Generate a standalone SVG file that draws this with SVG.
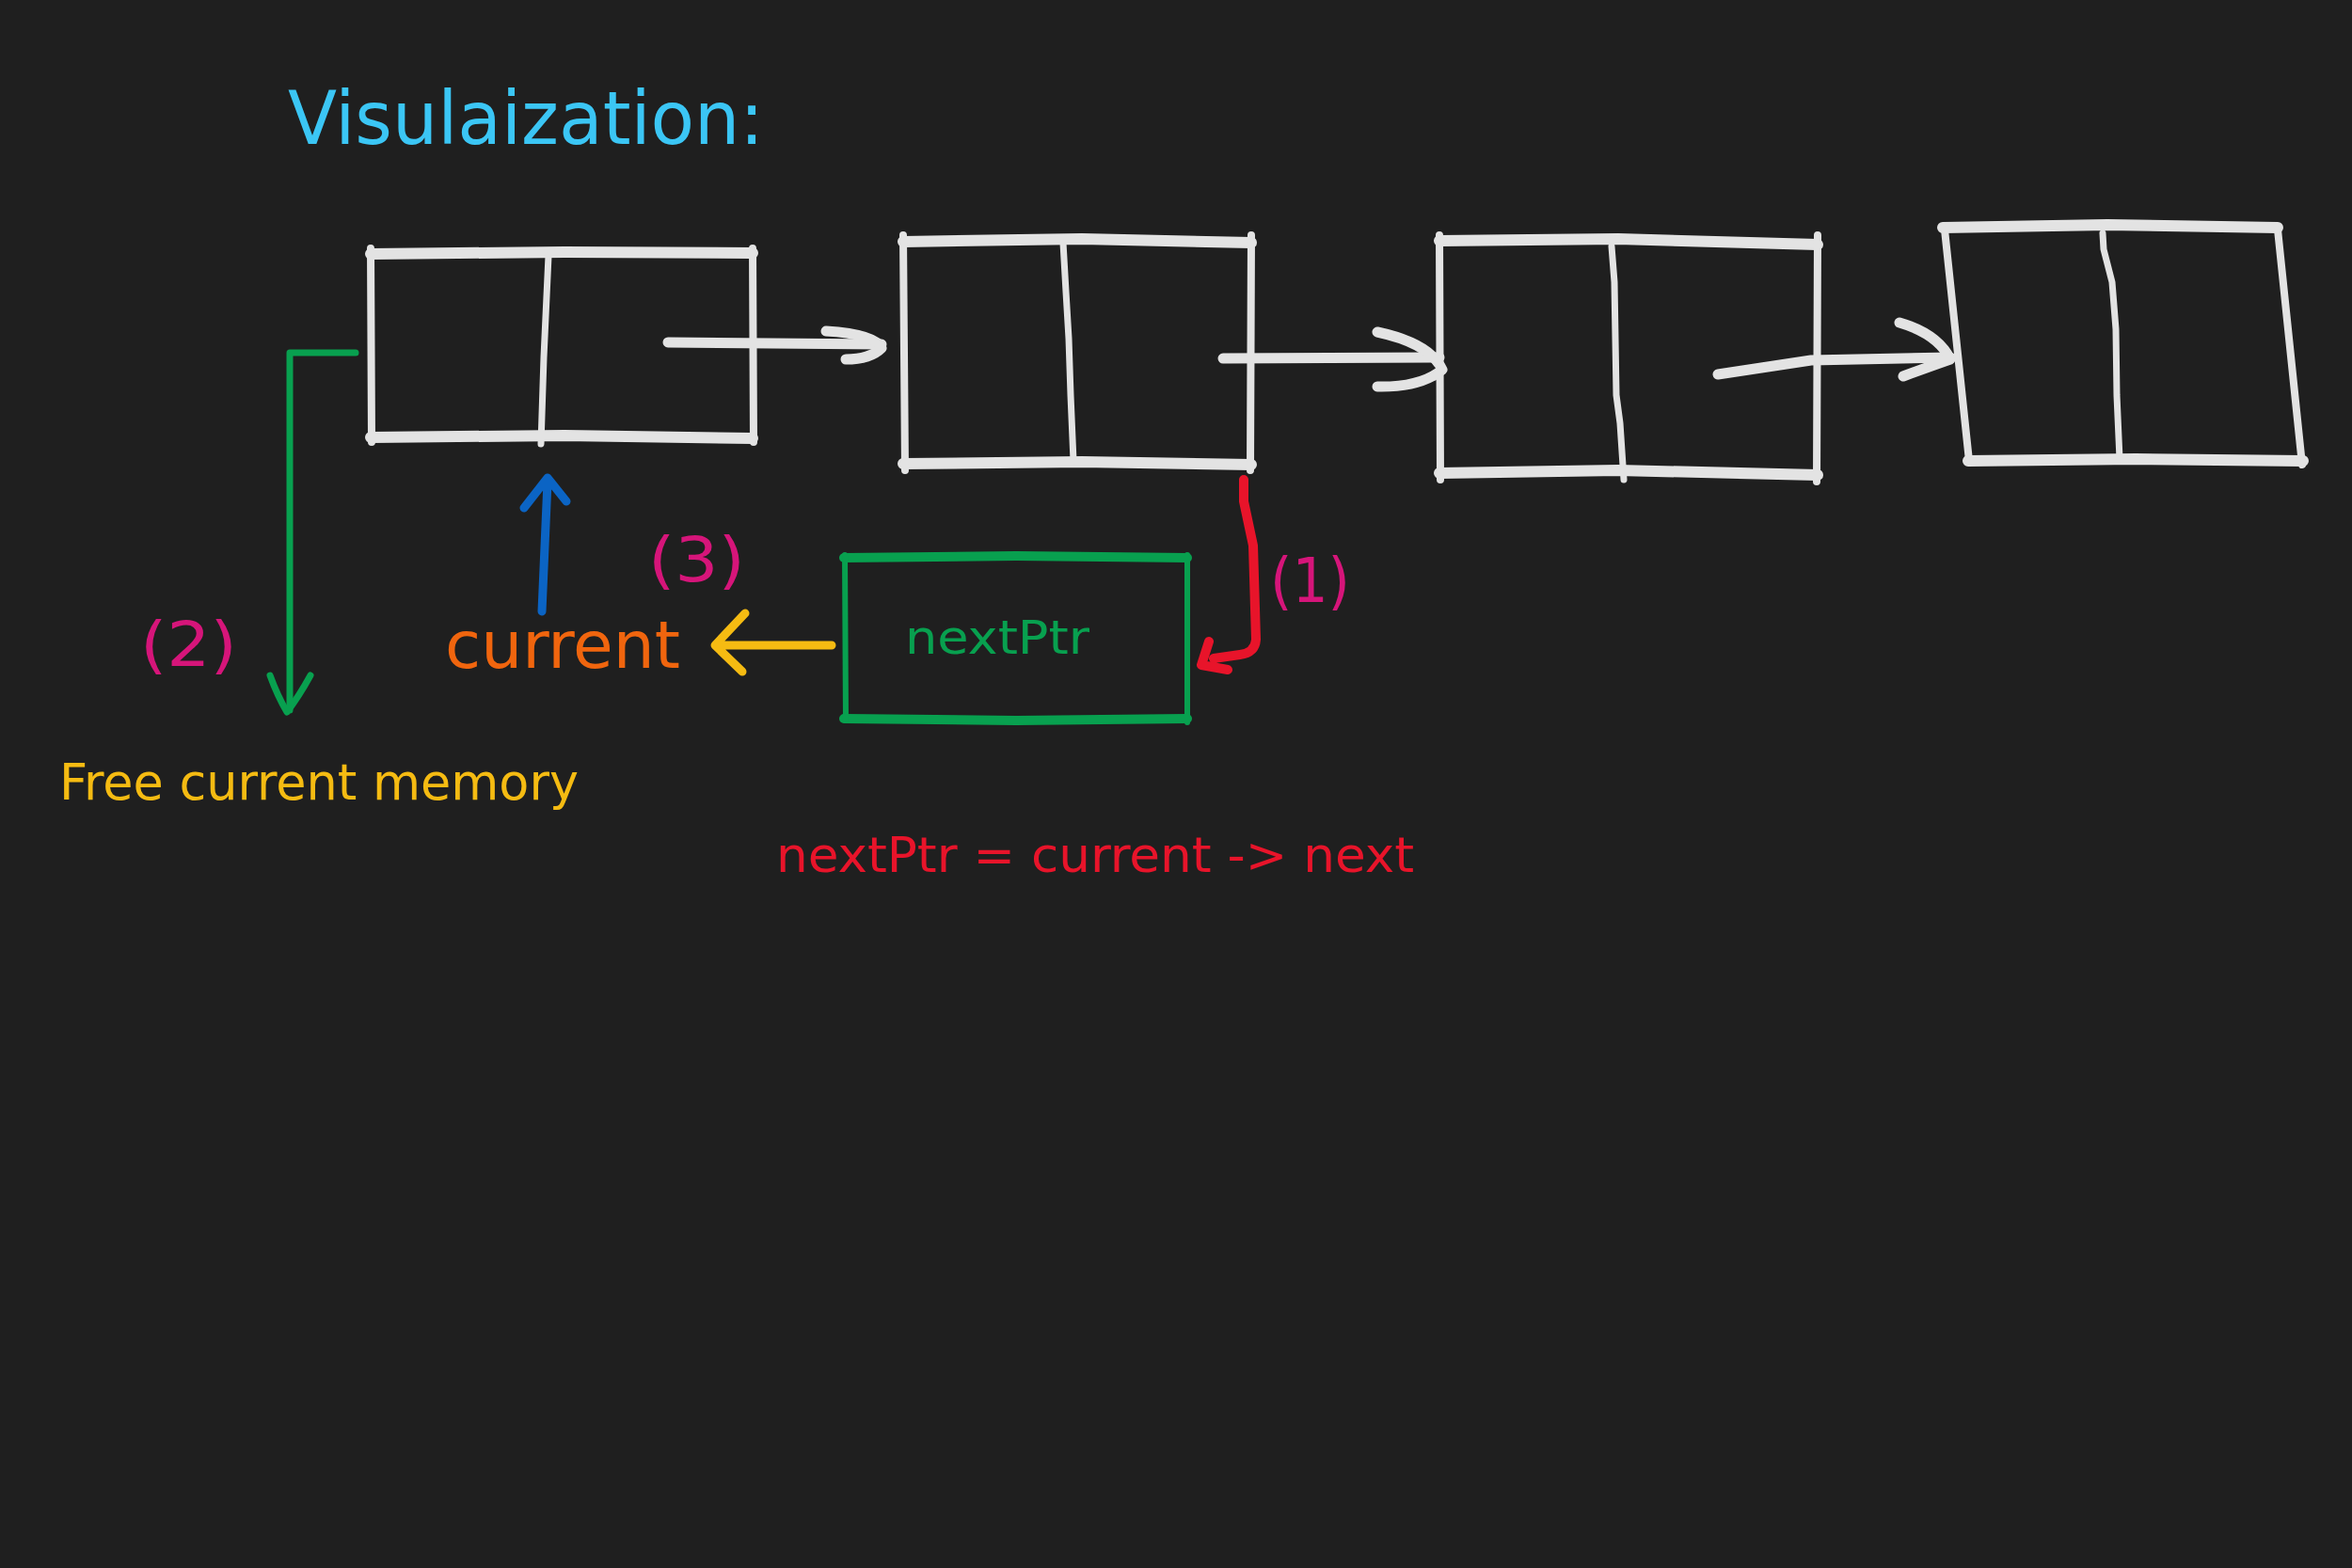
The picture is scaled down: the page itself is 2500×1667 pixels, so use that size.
<svg xmlns="http://www.w3.org/2000/svg" width="2500" height="1667" viewBox="0 0 2500 1667">
<defs>
<style>
.w{fill:none;stroke:#e3e3e3;stroke-linecap:round;stroke-linejoin:round}
.edge{stroke-width:12}
.side{stroke-width:8}
.div{stroke-width:7}
.ar{fill:none;stroke:#e3e3e3;stroke-width:11;stroke-linecap:round;stroke-linejoin:round}
.t{font-family:"Liberation Sans Narrow","DejaVu Sans Condensed","Liberation Sans",sans-serif}
.mag{fill:#d6157a}
</style>
</defs>
<rect x="0" y="0" width="2500" height="1667" fill="#1f1f1f"/>

<g id="title">
<text class="t" x="306" y="153" font-size="78" fill="#3bc6f5" textLength="506" lengthAdjust="spacingAndGlyphs">Visulaization:</text>
</g>

<g id="node1">
<path class="w edge" d="M394,270 L600,268 L800,269"/>
<path class="w edge" d="M394,465 L600,463 L800,466"/>
<path class="w side" d="M394,264 L395,470"/>
<path class="w side" d="M800,264 L801,470"/>
<path class="w div" d="M583,272 L578,380 L575,472"/>
</g>

<g id="node2">
<path class="w edge" d="M960,257 L1150,254 L1330,258"/>
<path class="w edge" d="M960,493 L1150,491 L1330,494"/>
<path class="w side" d="M960,250 L962,500"/>
<path class="w side" d="M1330,250 L1329,500"/>
<path class="w div" d="M1130,258 L1133,310 L1136,360 L1138,420 L1141,490"/>
</g>

<g id="node3">
<path class="w edge" d="M1530,256 L1720,254 L1932,260"/>
<path class="w edge" d="M1530,503 L1720,500 L1932,505"/>
<path class="w side" d="M1530,250 L1531,510"/>
<path class="w side" d="M1932,250 L1931,512"/>
<path class="w div" d="M1713,262 L1716,300 L1718,420 L1722,450 L1726,510"/>
</g>

<g id="node4">
<path class="w edge" d="M2065,242 L2240,239 L2421,242"/>
<path class="w edge" d="M2092,490 L2270,488 L2448,490"/>
<path class="w side" d="M2067,244 L2093,490"/>
<path class="w side" d="M2421,244 L2447,494"/>
<path class="w div" d="M2235,248 L2236,265 L2245,300 L2249,350 L2250,420 L2253,488"/>
</g>

<g id="nextPtrBox">
<path d="M897,593 L1080,591 L1262,593" fill="none" stroke="#08a04f" stroke-width="10" stroke-linecap="round"/>
<path d="M897,764 L1080,766 L1262,764" fill="none" stroke="#08a04f" stroke-width="10" stroke-linecap="round"/>
<path d="M898,590 L899,766 M1262,590 L1262,768" fill="none" stroke="#08a04f" stroke-width="6" stroke-linecap="round"/>
<text class="t" x="962" y="695" font-size="50" fill="#08a04f" textLength="196" lengthAdjust="spacingAndGlyphs">nextPtr</text>
</g>

<g id="connectors">
<path class="ar" d="M710,364 L937,366"/>
<path class="ar" d="M878,352 Q930,355 937,370 Q925,382 899,382"/>
<path class="ar" d="M1300,381 L1530,380"/>
<path class="ar" d="M1464,353 Q1520,365 1533,393 Q1510,412 1464,411"/>
<path class="ar" d="M1826,398 L1925,383 L2073,380"/>
<path class="ar" d="M2019,343 Q2060,355 2073,382 Q2050,390 2023,400"/>
<path d="M378,375 L308,375 L308,755" fill="none" stroke="#08a04f" stroke-width="7" stroke-linecap="round" stroke-linejoin="round"/>
<path d="M287,718 Q295,740 305,757 Q318,740 330,718" fill="none" stroke="#08a04f" stroke-width="7" stroke-linecap="round" stroke-linejoin="round"/>
<path d="M576,650 L582,512 M557,540 L582,508 L602,533" fill="none" stroke="#0b64c4" stroke-width="9" stroke-linecap="round" stroke-linejoin="round"/>
<path d="M884,686 L765,686 M792,652 L760,686 L789,714" fill="none" stroke="#f5bb12" stroke-width="9" stroke-linecap="round" stroke-linejoin="round"/>
<path d="M1322,510 L1322,533 L1332,580 L1335,680 Q1334,694 1318,696 L1290,700 M1285,682 L1277,707 L1305,712" fill="none" stroke="#e8142a" stroke-width="10" stroke-linecap="round" stroke-linejoin="round"/>
</g>

<g id="labels">
<text class="t mag" x="1350" y="640" font-size="66" textLength="85" lengthAdjust="spacingAndGlyphs">(1)</text>
<text class="t mag" x="149" y="708" font-size="66" textLength="103" lengthAdjust="spacingAndGlyphs">(2)</text>
<text class="t mag" x="689" y="618" font-size="66" textLength="103" lengthAdjust="spacingAndGlyphs">(3)</text>
<text class="t" x="473" y="710" font-size="70" fill="#f0650e" textLength="250" lengthAdjust="spacingAndGlyphs">current</text>
<text class="t" x="63" y="850" font-size="54" fill="#f5bb12" textLength="552" lengthAdjust="spacingAndGlyphs">Free current memory</text>
<text class="t" x="825" y="927" font-size="52" fill="#e8142a" textLength="678" lengthAdjust="spacingAndGlyphs">nextPtr = current -&gt; next</text>
</g>
</svg>
